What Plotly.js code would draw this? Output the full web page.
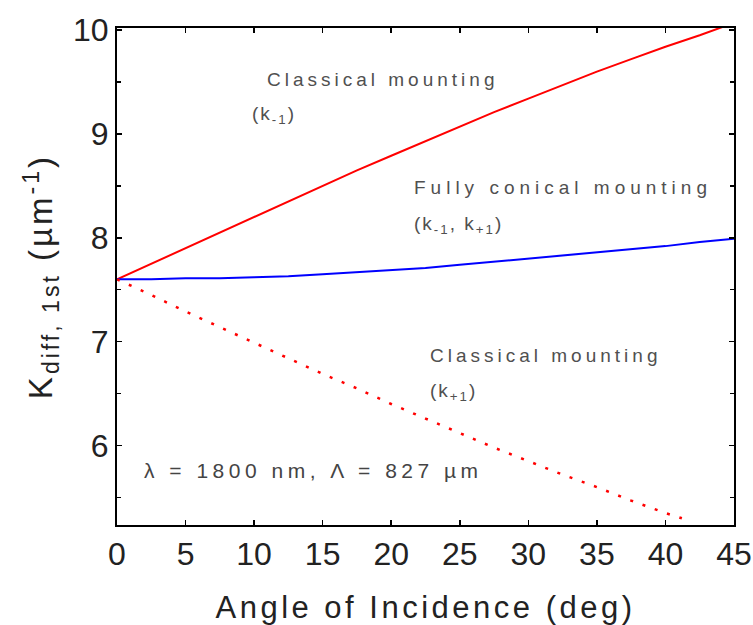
<!DOCTYPE html>
<html>
<head>
<meta charset="utf-8">
<script src="https://cdn.plot.ly/plotly-3.0.1.min.js"></script>
<style>
  html, body { margin: 0; padding: 0; background: #fff; }
  #chart { width: 753px; height: 625px; }
  .xtitle { letter-spacing: 3.5px; }
  .ytitle { letter-spacing: 3px; }
</style>
</head>
<body>
<div id="chart"></div>
<script>
// Angle of incidence (deg)
const angleFull = [0, 2.5, 5, 7.5, 10, 12.5, 15, 17.5, 20, 22.5, 25, 27.5, 30, 32.5, 35, 37.5, 40, 42.5, 45];
// Classical mounting, k_-1 (um^-1)
const kMinus1 = [7.60, 7.75, 7.90, 8.05, 8.20, 8.35, 8.50, 8.65, 8.79, 8.93, 9.07, 9.21, 9.34, 9.47, 9.60, 9.72, 9.84, 9.95, 10.07];
// Fully conical mounting, k_-1 and k_+1 (um^-1)
const kConical = [7.60, 7.60, 7.61, 7.61, 7.62, 7.63, 7.65, 7.67, 7.69, 7.71, 7.74, 7.77, 7.80, 7.83, 7.86, 7.89, 7.92, 7.96, 7.99];
// Classical mounting, k_+1 (um^-1)
const anglePlus = [0, 2.5, 5, 7.5, 10, 12.5, 15, 17.5, 20, 22.5, 25, 27.5, 30, 32.5, 35, 37.5, 40, 41.2];
const kPlus1 = [7.60, 7.45, 7.29, 7.14, 6.99, 6.84, 6.69, 6.55, 6.40, 6.26, 6.12, 5.98, 5.85, 5.72, 5.60, 5.47, 5.35, 5.30];

const xTickVals = [0, 5, 10, 15, 20, 25, 30, 35, 40, 45];
const yTickVals = [6, 7, 8, 9, 10];

const traces = [
  { x: angleFull, y: kMinus1, mode: 'lines', line: { color: '#ff0000', width: 2 }, showlegend: false, hoverinfo: 'skip' },
  { x: angleFull, y: kConical, mode: 'lines', line: { color: '#0000ff', width: 2 }, showlegend: false, hoverinfo: 'skip' },
  { x: anglePlus, y: kPlus1, mode: 'lines', line: { color: '#ff0000', width: 2.5, dash: '3px,10px' }, showlegend: false, hoverinfo: 'skip' }
];

const fam = 'Liberation Sans, Arial, sans-serif';
const annFont = { family: fam, size: 19, color: '#505050' };
const spaced = (text, px) => '<span style="letter-spacing:' + px + 'px">' + text + '</span>';
const ann = (x, y, text, font) => ({ x, y, xref: 'x', yref: 'y', text, showarrow: false, xanchor: 'left', yanchor: 'middle', font: font || annFont });

const layout = {
  width: 753, height: 625,
  margin: { l: 117, r: 19, t: 28, b: 100 },
  paper_bgcolor: '#ffffff', plot_bgcolor: '#ffffff',
  font: { family: fam, color: '#222222' },
  showlegend: false,
  xaxis: {
    range: [0, 45], tickvals: xTickVals, ticktext: xTickVals.map(String),
    ticks: 'inside', ticklen: 5, tickwidth: 1.5, tickcolor: '#000',
    showline: true, linecolor: '#000', linewidth: 2, mirror: 'ticks',
    showgrid: false, zeroline: false,
    tickfont: { size: 32, color: '#222' },
    title: { text: 'Angle of Incidence (deg)', font: { size: 31, color: '#222' }, standoff: 26 }
  },
  yaxis: {
    range: [5.235, 10.02], tickvals: yTickVals, ticktext: yTickVals.map(String),
    ticks: 'inside', ticklen: 5, tickwidth: 1.5, tickcolor: '#000',
    minor: { dtick: 0.5, ticks: 'inside', ticklen: 4, tickwidth: 1.5, tickcolor: '#000', showgrid: false },
    showline: true, linecolor: '#000', linewidth: 2, mirror: 'ticks',
    showgrid: false, zeroline: false,
    tickfont: { size: 32, color: '#222' },
    title: { text: 'K<sub>diff, 1st</sub> (µm<sup>-1</sup>)', font: { size: 33, color: '#222' }, standoff: 10 }
  },
  annotations: [
    ann(10.8, 9.52, spaced('Classical mounting', 4)),
    ann(9.7, 9.18, spaced('(k<sub>-1</sub>)', 2)),
    ann(21.5, 8.48, spaced('Fully conical mounting', 5)),
    ann(21.5, 8.12, spaced('(k<sub>-1</sub>, k<sub>+1</sub>)', 2)),
    ann(22.7, 6.87, spaced('Classical mounting', 4)),
    ann(22.7, 6.52, spaced('(k<sub>+1</sub>)', 2)),
    ann(1.83, 5.76, spaced('λ = 1800 nm, Λ = 827 µm', 4.5), { family: fam, size: 21, color: '#444444' })
  ]
};

Plotly.newPlot('chart', traces, layout, { displayModeBar: false, staticPlot: true });
</script>
</body>
</html>
